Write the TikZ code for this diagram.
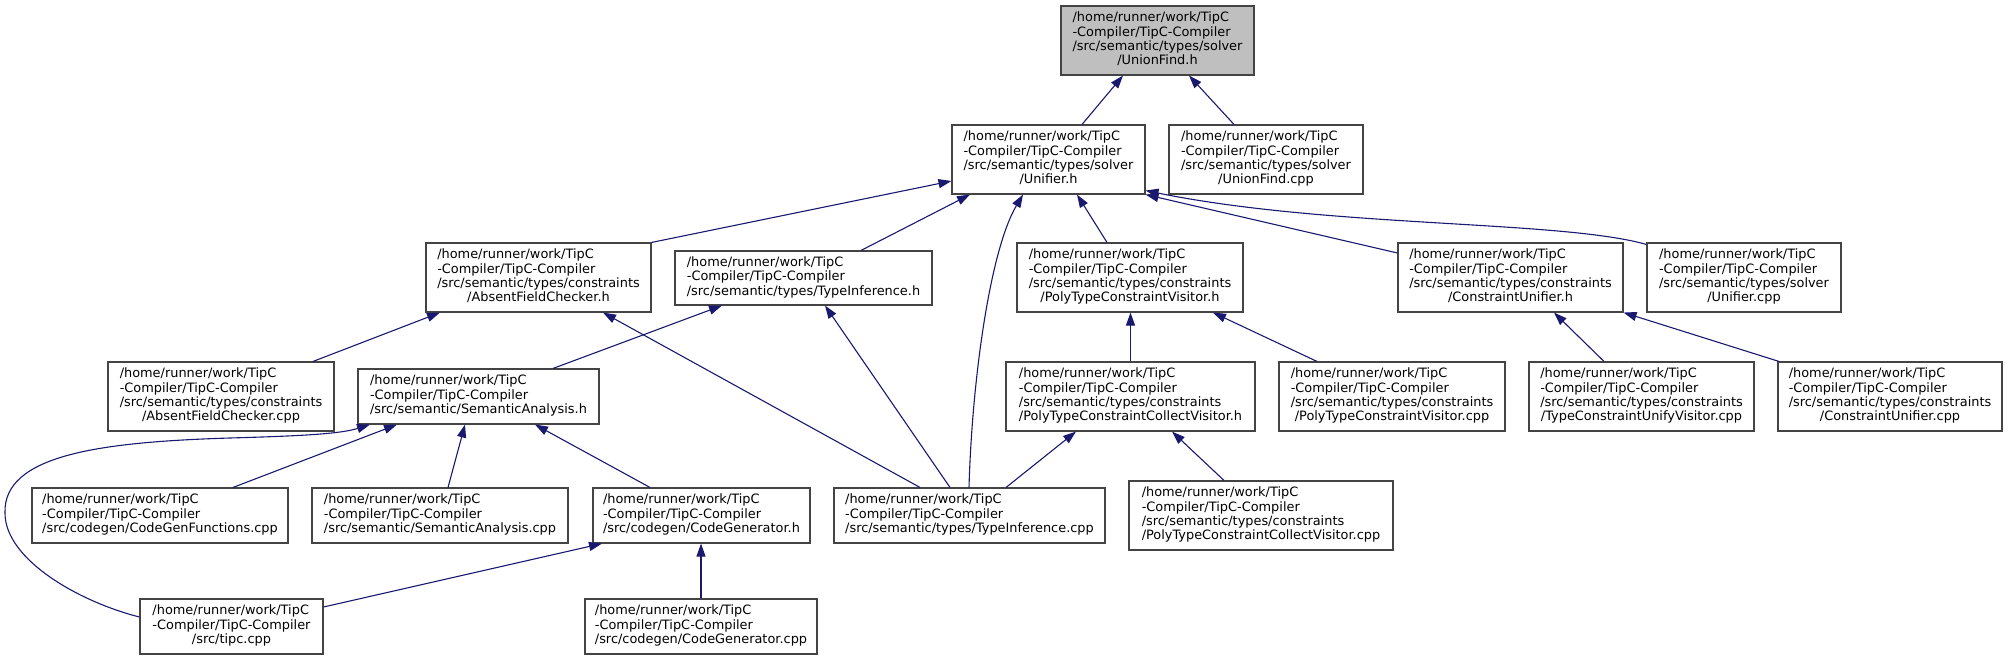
\documentclass[tikz,border=0pt]{standalone}
\usepackage{fontspec}
\setmainfont{DejaVu Sans}
\usetikzlibrary{arrows.meta}
\definecolor{edgecol}{HTML}{191970}
\definecolor{boxcol}{HTML}{444444}
\definecolor{hilite}{HTML}{BFBFBF}
\newcommand\lblfour[4]{\begin{tabular}{@{}l@{}}#1\\#2\\#3\\\multicolumn{1}{@{}c@{}}{#4}\end{tabular}}
\newcommand\lblthree[3]{\begin{tabular}{@{}l@{}}#1\\#2\\\multicolumn{1}{@{}c@{}}{#3}\end{tabular}}
\newcommand\hm{/home/runner/work/TipC}
\newcommand\cc{-Compiler/TipC-Compiler}
\tikzset{
  filebox/.style={draw=boxcol, line width=1.1pt, fill=white, inner sep=0pt,
    font=\fontsize{12.9}{14.4}\selectfont},
  dep/.style={draw=edgecol, line width=1.1pt, -{Triangle[length=13pt,width=9pt]}, edgecol}
}
\begin{document}
\begin{tikzpicture}[x=1pt,y=-1pt]
\useasboundingbox (0,0) rectangle (2009,660);
% nodes
\node[filebox, fill=hilite, minimum width=193, minimum height=69] (UFh) at (1157.5,40.5)
  {\lblfour{\hm}{\cc}{/src/semantic/types/solver}{/UnionFind.h}};
\node[filebox, minimum width=193, minimum height=69] (Unh) at (1048.5,159.5)
  {\lblfour{\hm}{\cc}{/src/semantic/types/solver}{/Unifier.h}};
\node[filebox, minimum width=194, minimum height=69] (UFcpp) at (1266,159.5)
  {\lblfour{\hm}{\cc}{/src/semantic/types/solver}{/UnionFind.cpp}};
\node[filebox, minimum width=225, minimum height=69] (AFCh) at (538.5,277.5)
  {\lblfour{\hm}{\cc}{/src/semantic/types/constraints}{/AbsentFieldChecker.h}};
\node[filebox, minimum width=257, minimum height=54] (TIh) at (803.5,278)
  {\lblthree{\hm}{\cc}{/src/semantic/types/TypeInference.h}};
\node[filebox, minimum width=226, minimum height=69] (PTCVh) at (1130,277.5)
  {\lblfour{\hm}{\cc}{/src/semantic/types/constraints}{/PolyTypeConstraintVisitor.h}};
\node[filebox, minimum width=225, minimum height=69] (CUh) at (1510.5,277.5)
  {\lblfour{\hm}{\cc}{/src/semantic/types/constraints}{/ConstraintUnifier.h}};
\node[filebox, minimum width=194, minimum height=69] (Uncpp) at (1744,277.5)
  {\lblfour{\hm}{\cc}{/src/semantic/types/solver}{/Unifier.cpp}};
\node[filebox, minimum width=226, minimum height=69] (AFCcpp) at (221,396.5)
  {\lblfour{\hm}{\cc}{/src/semantic/types/constraints}{/AbsentFieldChecker.cpp}};
\node[filebox, minimum width=241, minimum height=55] (SAh) at (478.5,396.5)
  {\lblthree{\hm}{\cc}{/src/semantic/SemanticAnalysis.h}};
\node[filebox, minimum width=249, minimum height=69] (PTCCVh) at (1130.5,396.5)
  {\lblfour{\hm}{\cc}{/src/semantic/types/constraints}{/PolyTypeConstraintCollectVisitor.h}};
\node[filebox, minimum width=226, minimum height=69] (PTCVcpp) at (1392,396.5)
  {\lblfour{\hm}{\cc}{/src/semantic/types/constraints}{/PolyTypeConstraintVisitor.cpp}};
\node[filebox, minimum width=225, minimum height=69] (TCUVcpp) at (1641.5,396.5)
  {\lblfour{\hm}{\cc}{/src/semantic/types/constraints}{/TypeConstraintUnifyVisitor.cpp}};
\node[filebox, minimum width=224, minimum height=69] (CUcpp) at (1890,396.5)
  {\lblfour{\hm}{\cc}{/src/semantic/types/constraints}{/ConstraintUnifier.cpp}};
\node[filebox, minimum width=256, minimum height=55] (CGFcpp) at (160,515.5)
  {\lblthree{\hm}{\cc}{/src/codegen/CodeGenFunctions.cpp}};
\node[filebox, minimum width=256, minimum height=55] (SAcpp) at (440,515.5)
  {\lblthree{\hm}{\cc}{/src/semantic/SemanticAnalysis.cpp}};
\node[filebox, minimum width=217, minimum height=55] (CGh) at (701.5,515.5)
  {\lblthree{\hm}{\cc}{/src/codegen/CodeGenerator.h}};
\node[filebox, minimum width=271, minimum height=55] (TIcpp) at (969.5,515.5)
  {\lblthree{\hm}{\cc}{/src/semantic/types/TypeInference.cpp}};
\node[filebox, minimum width=264, minimum height=69] (PTCCVcpp) at (1261,515.5)
  {\lblfour{\hm}{\cc}{/src/semantic/types/constraints}{/PolyTypeConstraintCollectVisitor.cpp}};
\node[filebox, minimum width=183, minimum height=55] (tipc) at (231.5,626.5)
  {\lblthree{\hm}{\cc}{/src/tipc.cpp}};
\node[filebox, minimum width=232, minimum height=55] (CGcpp) at (701,626.5)
  {\lblthree{\hm}{\cc}{/src/codegen/CodeGenerator.cpp}};
% edges (child -> parent, arrow at parent); yshift is in canvas units (up = +)
\draw[dep] ([xshift=33.5]Unh.north) -- ([xshift=-34.5]UFh.south);
\draw[dep] ([xshift=-32]UFcpp.north) -- ([xshift=31.5]UFh.south);
\draw[dep] (AFCh.north east) -- ([yshift=-21.5]Unh.west);
\draw[dep] ([xshift=57.5]TIh.north) -- ([xshift=-78.5]Unh.south);
\draw[dep] ([xshift=-0.5]TIcpp.north) .. controls (972,380) and (990,250) .. ([xshift=-25.5]Unh.south);
\draw[dep] ([xshift=-23]PTCVh.north) -- ([xshift=28.5]Unh.south);
\draw[dep] ([yshift=24.5]CUh.west) -- (Unh.south east);
\draw[dep] ([yshift=-2]Uncpp.north west) .. controls (1560,220) and (1330,228) .. ([yshift=4]Unh.south east);
\draw[dep] ([xshift=92]AFCcpp.north) -- ([xshift=-98.5]AFCh.south);
\draw[dep] ([xshift=-49.5]TIcpp.north) -- ([xshift=64.5]AFCh.south);
\draw[dep] ([xshift=74.5]SAh.north) -- ([xshift=-81.5]TIh.south);
\draw[dep] ([xshift=-19.5]TIcpp.north) -- ([xshift=21.5]TIh.south);
\coordinate (tA) at (5,513);
\coordinate (tB) at (230,438);
\draw[dep] ([yshift=9.5]tipc.west) .. controls (80,602) and (5,560) .. (tA)
  .. controls (3,455) and (100,442) .. (tB)
  .. controls (300,436) and (340,434) .. ([xshift=-108.5]SAh.south);
\draw[dep] ([xshift=73]CGFcpp.north) -- ([xshift=-81.5]SAh.south);
\draw[dep] ([xshift=8]SAcpp.north) -- ([xshift=-13.5]SAh.south);
\draw[dep] ([xshift=-51.5]CGh.north) -- ([xshift=56.5]SAh.south);
\draw[dep] ([yshift=19.5]tipc.east) -- ([xshift=-99.5]CGh.south);
\draw[dep] (CGcpp.north) -- (CGcpp.north |- CGh.south);
\draw[dep] (PTCCVh.north) -- (PTCCVh.north |- PTCVh.south);
\draw[dep] ([xshift=-75]PTCVcpp.north) -- ([xshift=83]PTCVh.south);
\draw[dep] ([xshift=36.5]TIcpp.north) -- ([xshift=-54.5]PTCCVh.south);
\draw[dep] ([xshift=-37]PTCCVcpp.north) -- ([xshift=41.5]PTCCVh.south);
\draw[dep] ([xshift=-37.5]TCUVcpp.north) -- ([xshift=43.5]CUh.south);
\draw[dep] ([xshift=-111]CUcpp.north) -- (CUh.south east);
\end{tikzpicture}
\end{document}
